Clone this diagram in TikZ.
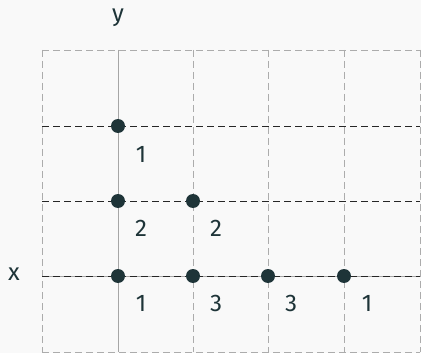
\documentclass[tikz,border=0pt]{standalone}
\usepackage{fontspec}
\setmainfont{Fira Sans}
\begin{document}
\begin{tikzpicture}[x=1pt,y=-1pt,
  gridline/.style={draw=gray!65,line width=0.9pt,dash pattern=on 7pt off 4pt},
  axisline/.style={draw=gray!70,line width=0.9pt},
  rowline/.style={draw=black!85,line width=0.9pt,dash pattern=on 7pt off 4pt},
  pt/.style={circle,fill=dotc,inner sep=0pt,minimum size=14pt},
  lbl/.style={text=dotc,font=\fontsize{24}{24}\selectfont,inner sep=0pt}]
\definecolor{dotc}{HTML}{1E3438}
\definecolor{bgc}{HTML}{F9F9F9}
\fill[bgc] (0,0) rectangle (421,353);
\useasboundingbox (0,0) rectangle (421,353);
% grid
\foreach \x in {42,193,268,344,420} \draw[gridline] (\x,50) -- (\x,352);
\foreach \y in {50,352} \draw[gridline] (42,\y) -- (420,\y);
\draw[axisline] (118,50) -- (118,352);
\draw[axisline] (42,276) -- (420,276);
\foreach \y in {126,201,276} \draw[rowline] (42,\y) -- (420,\y);
% axis labels
\node[lbl] (ylab) at (118,18) {y};
\node[lbl] (xlab) at (14,274) {x};
% points
\node[pt] (p1) at (118,126) {};
\node[pt] (p2) at (118,201) {};
\node[pt] (p3) at (193,201) {};
\node[pt] (p4) at (118,276) {};
\node[pt] (p5) at (193,276) {};
\node[pt] (p6) at (268,276) {};
\node[pt] (p7) at (344,276) {};
% labels
\node[lbl] (l1) at (141,154) {1};
\node[lbl] (l2) at (141,228) {2};
\node[lbl] (l3) at (216,228) {2};
\node[lbl] (l4) at (141,303) {1};
\node[lbl] (l5) at (216,303) {3};
\node[lbl] (l6) at (291,303) {3};
\node[lbl] (l7) at (367,303) {1};
\end{tikzpicture}
\end{document}
